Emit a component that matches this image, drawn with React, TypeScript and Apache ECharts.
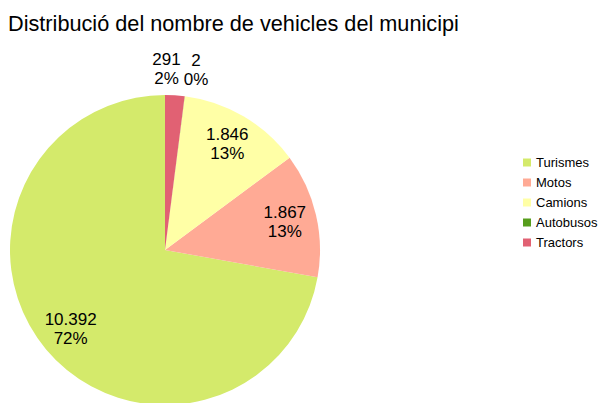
import React, { useEffect, useRef } from "react";
import * as echarts from "echarts";

const categories = ["Turismes", "Motos", "Camions", "Autobusos", "Tractors"];
const values = [10392, 1867, 1846, 2, 291];
const colors = ["#d4ea6b", "#ffaa95", "#ffffa6", "#579d1c", "#e16173"];
const outsideLabels = ["Autobusos", "Tractors"];
const labelOffsets: Record<string, number[]> = { Autobusos: [8, 0], Tractors: [-10, 0] };

function fmt(n: number): string {
  return String(n).replace(/\B(?=(\d{3})+(?!\d))/g, ".");
}

const labelFormatter = (p: any) => `${fmt(p.value)}\n${Math.round(p.percent)}%`;

export default function App() {
  const ref = useRef<HTMLDivElement>(null);
  useEffect(() => {
    document.body.style.margin = "0";
    const chart = echarts.init(ref.current!, null, { renderer: "svg" });
    const baseData = categories.map((c, i) => ({ name: c, value: values[i], itemStyle: { color: colors[i] } }));
    const center = [165, 250];
    const labelStyle = {
      color: "#000",
      fontFamily: "Liberation Sans",
      fontSize: 17,
      lineHeight: 19,
      formatter: labelFormatter,
    };
    chart.setOption({
      animation: false,
      title: {
        text: "Distribució del nombre de vehicles del municipi",
        left: 3,
        top: 7,
        textStyle: { fontFamily: "Liberation Sans", fontSize: 21.7, fontWeight: "normal", color: "#000" },
      },
      legend: {
        orient: "vertical",
        left: 518,
        top: 151,
        icon: "rect",
        itemWidth: 8,
        itemHeight: 8,
        itemGap: 7,
        data: categories,
        textStyle: { fontFamily: "Liberation Sans", fontSize: 13, color: "#000" },
      },
      series: [
        {
          type: "pie",
          center,
          radius: [0, 155],
          startAngle: 90,
          clockwise: false,
          avoidLabelOverlap: false,
          label: { show: false },
          labelLine: { show: false },
          emphasis: { disabled: true },
          itemStyle: { borderWidth: 0 },
          data: baseData,
        },
        {
          type: "pie",
          center,
          radius: [0, 240],
          startAngle: 90,
          clockwise: false,
          silent: true,
          avoidLabelOverlap: false,
          legendHoverLink: false,
          labelLine: { show: false },
          itemStyle: { color: "transparent" },
          label: { ...labelStyle, position: "inside" },
          data: categories.map((c, i) => ({
            name: c,
            value: values[i],
            itemStyle: { color: "transparent" },
            label: { show: !outsideLabels.includes(c) },
          })),
        },
        {
          type: "pie",
          center,
          radius: [0, 356],
          startAngle: 90,
          clockwise: false,
          silent: true,
          avoidLabelOverlap: false,
          legendHoverLink: false,
          labelLine: { show: false },
          itemStyle: { color: "transparent" },
          label: { ...labelStyle, position: "inside" },
          data: categories.map((c, i) => ({
            name: c,
            value: values[i],
            itemStyle: { color: "transparent" },
            label: { show: outsideLabels.includes(c), offset: labelOffsets[c] || [0, 0] },
          })),
        },
      ],
    });
    return () => chart.dispose();
  }, []);
  return <div ref={ref} style={{ width: 602, height: 403 }} />;
}
